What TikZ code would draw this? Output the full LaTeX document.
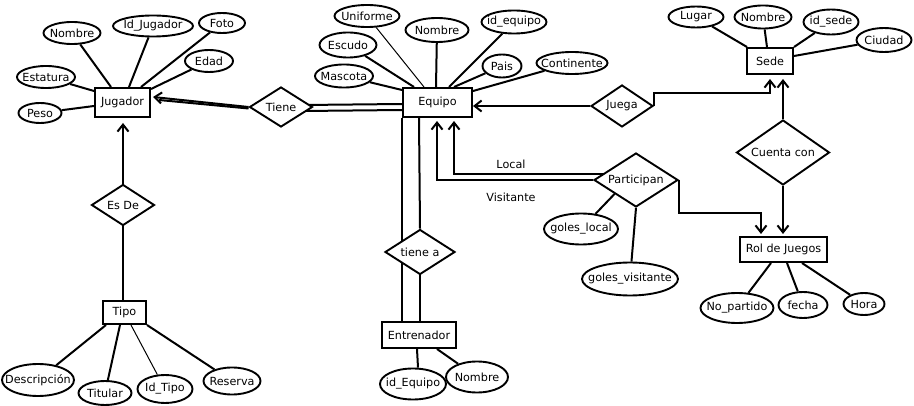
\documentclass[tikz,border=0pt]{standalone}
\usepackage{fontspec}
\setmainfont{DejaVu Sans}
\usetikzlibrary{shapes.geometric,arrows.meta,calc,backgrounds}
\newcommand\ctext[1]{\makebox[0pt]{#1}}
\begin{document}
\begin{tikzpicture}[x=1pt,y=-1pt, font=\fontsize{11.2}{13}\selectfont,
  ent/.style={draw, line width=2pt, fill=white, inner sep=0pt},
  attr/.style={ellipse, draw, line width=1.9pt, fill=white, inner sep=0pt},
  rel/.style={diamond, aspect=1, draw, line width=1.9pt, fill=white, inner sep=0pt},
  conn/.style={line width=2pt},
  thinconn/.style={line width=1pt},
  arr/.style={conn, -{Straight Barb[length=7pt,width=11pt]}},
  lbl/.style={inner sep=0pt}]
\useasboundingbox (0,0) rectangle (914,406);

% entities
\node[ent, minimum width=55, minimum height=29] (jug) at (122.5,102.5) {\ctext{Jugador}};
\node[ent, minimum width=69, minimum height=29] (eq) at (437.5,102.5) {\ctext{Equipo}};
\node[ent, minimum width=46, minimum height=26] (sede) at (770,61) {\ctext{Sede}};
\node[ent, minimum width=87, minimum height=25] (rol) at (783.5,249.5) {\ctext{Rol de Juegos}};
\node[ent, minimum width=74, minimum height=26] (entr) at (419,335) {\ctext{Entrenador}};
\node[ent, minimum width=43, minimum height=23] (tipo) at (124.5,312.5) {\ctext{Tipo}};

% relationships
\node[rel, minimum width=63, minimum height=40] (tiene) at (281,107) {\ctext{Tiene}};
\node[rel, minimum width=62, minimum height=42] (juega) at (622,106) {\ctext{Juega}};
\node[rel, minimum width=93, minimum height=65] (cuenta) at (783,152.5) {\ctext{Cuenta con}};
\node[rel, minimum width=84, minimum height=54] (part) at (636,180) {\ctext{Participan}};
\node[rel, minimum width=70, minimum height=45] (tienea) at (420,252) {\ctext{tiene a}};
\node[rel, minimum width=63, minimum height=41] (esde) at (123,205) {\ctext{Es De}};

% Jugador attributes
\node[attr, minimum width=57, minimum height=22] (jnom) at (72,33) {\ctext{Nombre}};
\node[attr, minimum width=80, minimum height=21] (jid) at (153,26) {\ctext{Id\_Jugador}};
\node[attr, minimum width=46, minimum height=20] (jfoto) at (222,23) {\ctext{Foto}};
\node[attr, minimum width=48, minimum height=22] (jedad) at (209,61) {\ctext{Edad}};
\node[attr, minimum width=58, minimum height=22] (jest) at (46,77) {\ctext{Estatura}};
\node[attr, minimum width=43, minimum height=20] (jpeso) at (40,113) {\ctext{Peso}};

% Equipo attributes
\node[attr, minimum width=65, minimum height=22] (euni) at (367,16) {\ctext{Uniforme}};
\node[attr, minimum width=63, minimum height=24] (enom) at (437,30) {\ctext{Nombre}};
\node[attr, minimum width=65, minimum height=23] (eid) at (514,22) {\ctext{id\_equipo}};
\node[attr, minimum width=57, minimum height=25] (eesc) at (348,45) {\ctext{Escudo}};
\node[attr, minimum width=39, minimum height=23] (epais) at (502,66) {\ctext{Pais}};
\node[attr, minimum width=71, minimum height=22] (econt) at (572,63) {\ctext{Continente}};
\node[attr, minimum width=58, minimum height=23] (emasc) at (344,76) {\ctext{Mascota}};

% Sede attributes
\node[attr, minimum width=55, minimum height=21] (slug) at (696,17) {\ctext{Lugar}};
\node[attr, minimum width=57, minimum height=23] (snom) at (763,17) {\ctext{Nombre}};
\node[attr, minimum width=55, minimum height=25] (sid) at (831,22) {\ctext{id\_sede}};
\node[attr, minimum width=55, minimum height=24] (sciu) at (884,40) {\ctext{Ciudad}};

% Participan attributes
\node[attr, minimum width=74, minimum height=31] (gl) at (581,229) {\ctext{goles\_local}};
\node[attr, minimum width=96, minimum height=33] (gv) at (630,279) {\ctext{goles\_visitante}};

% Entrenador attributes
\node[attr, minimum width=66, minimum height=31] (tid) at (413,384) {\ctext{id\_Equipo}};
\node[attr, minimum width=62, minimum height=31] (tnom) at (477,377) {\ctext{Nombre}};

% Tipo attributes
\node[attr, minimum width=72, minimum height=32] (tdesc) at (38,380) {\ctext{Descripción}};
\node[attr, minimum width=53, minimum height=24] (ttit) at (105,393) {\ctext{Titular}};
\node[attr, minimum width=55, minimum height=28] (tidt) at (165,389) {\ctext{Id\_Tipo}};
\node[attr, minimum width=57, minimum height=27] (tres) at (232,381) {\ctext{Reserva}};

% Rol attributes
\node[attr, minimum width=73, minimum height=30] (rnp) at (737,308) {\ctext{No\_partido}};
\node[attr, minimum width=49, minimum height=26] (rfe) at (803,305) {\ctext{fecha}};
\node[attr, minimum width=41, minimum height=22] (rho) at (864,304) {\ctext{Hora}};

% labels
\node[lbl] (llocal) at (511,164) {Local};
\node[lbl] (lvis) at (511,197) {Visitante};

\begin{scope}[on background layer]
\fill[white] (0,0) rectangle (914,406);
% Jugador attribute lines
\draw[conn] (jnom) -- ($(jug.north west)+(17,0)$);
\draw[conn] (jid) -- ($(jug.north west)+(35,0)$);
\draw[conn] (jfoto) -- ($(jug.north west)+(47,0)$);
\draw[conn] (jedad) -- ($(jug.north east)+(0,2)$);
\draw[conn] (jest) -- ($(jug.north west)+(0,4)$);
\draw[conn] (jpeso) -- ($(jug.north west)+(0,19)$);
% Equipo attribute lines
\draw[thinconn] (euni) -- ($(eq.north west)+(22,0)$);
\draw[conn] (enom) -- ($(eq.north west)+(34,0)$);
\draw[conn] (eid) -- ($(eq.north west)+(47,0)$);
\draw[conn] (eesc) -- ($(eq.north west)+(12,0)$);
\draw[conn] (epais) -- ($(eq.north west)+(52,0)$);
\draw[conn] (econt) -- ($(eq.north east)+(0,4)$);
\draw[conn] (emasc) -- ($(eq.north west)+(0,3)$);
% Sede attribute lines
\draw[conn] (slug) -- ($(sede.north west)+(1,0)$);
\draw[conn] (snom) -- ($(sede.north west)+(21,0)$);
\draw[conn] (sid) -- (sede.north east);
\draw[conn] (sciu) -- ($(sede.north east)+(0,9)$);
% Tiene
\draw[arr] (tiene.west) -- ($(jug.east)+(2,-5.5)$);
\draw[conn] ($(tiene.west)+(0,1.5)$) -- ($(jug.east)+(8,-2.5)$);
\draw[conn] ($(tiene.east)+(-10,-2)$) -- ($(eq.north west)+(0,17)$);
\draw[conn] ($(tiene.east)+(-10,4)$) -- ($(eq.north west)+(0,23)$);
% Juega
\draw[arr] (juega.west) -- (juega.west -| eq.east);
\draw[arr] (juega.east) -- ($(juega.east |- sede.south)+(0,18)$) -| ($(sede.south)+(0,4)$);
% Cuenta con
\draw[arr] (cuenta.north) -- ($(cuenta.north |- sede.south)+(0,4)$);
\draw[arr] (cuenta.south) -- ($(cuenta.south |- rol.north)+(0,-2)$);
% Participan
\draw[arr] (part.east) -- ++(0,33) -| ($(rol.north west)+(22,-2)$);
\draw[arr] ($(part.west)+(15,-6)$) -| ($(eq.south west)+(52,3)$);
\draw[arr] (part.west) -| ($(eq.south west)+(35,3)$);
\draw[conn] (gl) -- (part.south west);
\draw[conn] (gv) -- (part.south);
% tiene a
\draw[conn] (eq.south west) -- (eq.south west |- entr.north);
\draw[conn] ($(eq.south west)+(17,0)$) -- (tienea.north);
\draw[conn] (tienea.south) -- (tienea.south |- entr.north);
% Entrenador attributes
\draw[conn] ($(entr.south west)+(36,0)$) -- ($(tid.north)+(5,0)$);
\draw[conn] ($(entr.south west)+(56,0)$) -- (tnom);
% Es De
\draw[arr] (esde.north) -- ($(esde.north |- jug.south)+(0,5)$);
\draw[conn] (esde.south) -- (esde.south |- tipo.north);
% Tipo attributes
\draw[conn] (tdesc) -- ($(tipo.south west)+(4,0)$);
\draw[conn] (ttit) -- ($(tipo.south west)+(18,0)$);
\draw[thinconn] (tidt) -- ($(tipo.south west)+(29,0)$);
\draw[conn] (tres) -- (tipo.south east);
% Rol attributes
\draw[conn] (rnp) -- ($(rol.south west)+(32,0)$);
\draw[conn] (rfe) -- ($(rol.south west)+(48,0)$);
\draw[conn] (rho) -- ($(rol.south west)+(63,0)$);
\end{scope}
\end{tikzpicture}
\end{document}
